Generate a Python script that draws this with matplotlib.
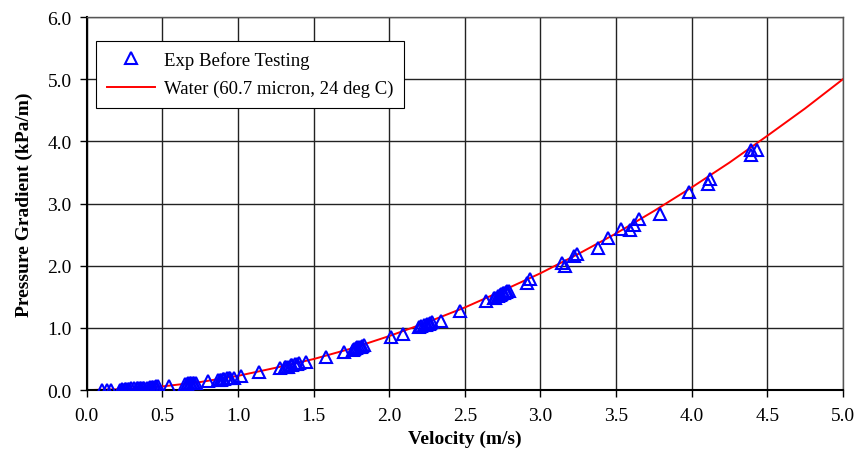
import matplotlib
matplotlib.use("Agg")
import matplotlib.pyplot as plt
from matplotlib.ticker import MultipleLocator, FormatStrFormatter

plt.rcParams['font.family'] = ['Liberation Serif', 'DejaVu Serif']

# Measured pressure gradient vs. velocity (before testing)
exp_velocity = [0.10, 0.13, 0.16, 0.22, 0.23, 0.24, 0.25, 0.26, 0.27, 0.28,
                0.29, 0.31, 0.33, 0.34, 0.35, 0.36, 0.37, 0.38, 0.40, 0.41,
                0.42, 0.43, 0.44, 0.45, 0.46, 0.47, 0.54, 0.65, 0.66, 0.67,
                0.68, 0.69, 0.70, 0.71, 0.72, 0.80, 0.87, 0.88, 0.89, 0.90,
                0.91, 0.93, 0.94, 0.95, 0.97, 1.02, 1.14, 1.28, 1.31, 1.32,
                1.33, 1.35, 1.36, 1.38, 1.39, 1.40, 1.45, 1.58, 1.70, 1.76,
                1.77, 1.78, 1.79, 1.80, 1.81, 1.82, 1.83, 2.01, 2.09, 2.20,
                2.21, 2.23, 2.24, 2.25, 2.26, 2.27, 2.28, 2.34, 2.47, 2.64,
                2.69, 2.70, 2.72, 2.73, 2.74, 2.75, 2.76, 2.77, 2.78, 2.79,
                2.91, 2.93, 3.14, 3.16, 3.22, 3.24, 3.38, 3.45, 3.53, 3.59,
                3.62, 3.65, 3.79, 3.98, 4.11, 4.12, 4.39, 4.39, 4.43]
exp_gradient = [0.00, 0.00, 0.00, 0.01, 0.02, 0.01, 0.02, 0.02, 0.02, 0.02,
                0.03, 0.03, 0.03, 0.03, 0.03, 0.04, 0.04, 0.04, 0.04, 0.04,
                0.05, 0.05, 0.05, 0.05, 0.06, 0.06, 0.07, 0.10, 0.10, 0.11,
                0.11, 0.11, 0.12, 0.12, 0.11, 0.14, 0.16, 0.17, 0.17, 0.18,
                0.18, 0.19, 0.19, 0.20, 0.20, 0.23, 0.29, 0.35, 0.37, 0.38,
                0.38, 0.40, 0.40, 0.42, 0.42, 0.43, 0.45, 0.54, 0.61, 0.65,
                0.66, 0.67, 0.69, 0.69, 0.70, 0.71, 0.72, 0.86, 0.91, 1.02,
                1.03, 1.05, 1.05, 1.06, 1.07, 1.08, 1.09, 1.12, 1.27, 1.43,
                1.48, 1.49, 1.51, 1.53, 1.54, 1.56, 1.56, 1.58, 1.59, 1.60,
                1.72, 1.78, 2.04, 2.00, 2.16, 2.19, 2.28, 2.44, 2.59, 2.57,
                2.65, 2.75, 2.84, 3.18, 3.31, 3.40, 3.87, 3.78, 3.87]

# Water model curve (60.7 micron, 24 deg C)
model_velocity = [0.0, 0.25, 0.5, 0.75, 1.0, 1.25, 1.5, 1.75, 2.0, 2.25, 2.5,
                  2.75, 3.0, 3.25, 3.5, 3.75, 4.0, 4.25, 4.5, 4.75, 5.0]
model_gradient = [0.0, 0.017, 0.06, 0.13, 0.23, 0.36, 0.50, 0.67, 0.87, 1.09,
                  1.33, 1.60, 1.88, 2.19, 2.52, 2.88, 3.26, 3.66, 4.09, 4.53,
                  5.00]

fig = plt.figure(figsize=(8.6, 4.77), dpi=100)
ax = fig.add_axes([0.101, 0.180, 0.879, 0.782])

ax.plot(exp_velocity, exp_gradient, linestyle='none', marker='^',
        markersize=8, markerfacecolor='none', markeredgecolor='#0000ff',
        markeredgewidth=1.5, label='Exp Before Testing', zorder=3)
ax.plot(model_velocity, model_gradient, color='#ff0000', linewidth=1.4,
        label='Water (60.7 micron, 24 deg C)', zorder=2)

ax.set_xlim(0, 5)
ax.set_ylim(0, 6)
ax.xaxis.set_major_locator(MultipleLocator(0.5))
ax.yaxis.set_major_locator(MultipleLocator(1.0))
ax.xaxis.set_major_formatter(FormatStrFormatter('%.1f'))
ax.yaxis.set_major_formatter(FormatStrFormatter('%.1f'))
ax.grid(True, color='#222222', linewidth=1.0)
ax.set_axisbelow(True)

for side in ('left', 'bottom'):
    ax.spines[side].set_linewidth(1.5)
for side in ('top', 'right'):
    ax.spines[side].set_linewidth(1.0)
    ax.spines[side].set_color('#555555')

ax.tick_params(axis='both', direction='out', length=5, width=1,
               labelsize=14, pad=6)
ax.tick_params(axis='x', pad=7)

ax.set_xlabel('Velocity (m/s)', fontsize=14, fontweight='bold', labelpad=4)
ax.set_ylabel('Pressure Gradient (kPa/m)', fontsize=14, fontweight='bold',
              labelpad=10)

leg = ax.legend(loc='upper left', bbox_to_anchor=(0.0125, 0.937),
                fontsize=13.5, frameon=True, fancybox=False, borderpad=0.55,
                borderaxespad=0.0, handlelength=2.6, handletextpad=0.45,
                labelspacing=0.6)
leg.get_frame().set_edgecolor('#000000')
leg.get_frame().set_linewidth(0.8)
leg.get_frame().set_alpha(1.0)

fig.savefig('out.png', dpi=100)
